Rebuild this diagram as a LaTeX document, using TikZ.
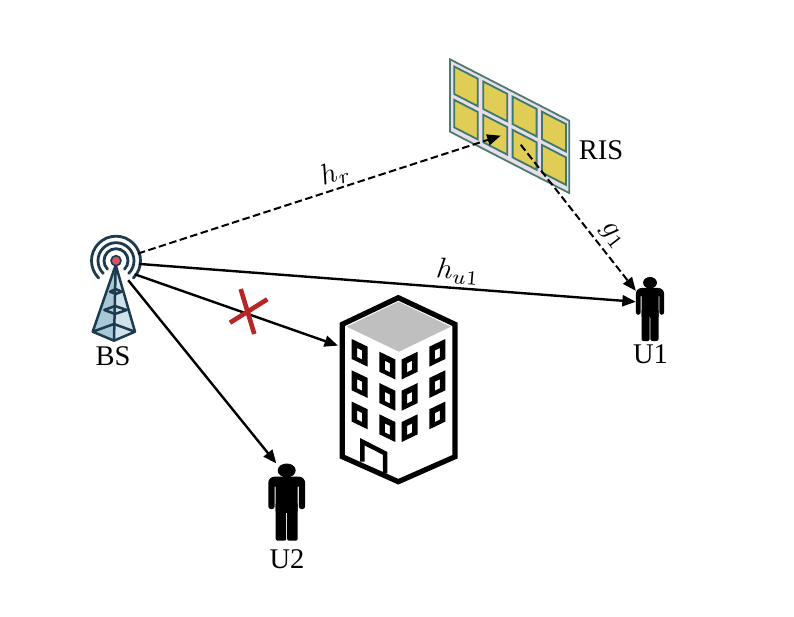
\documentclass[tikz,border=0pt]{standalone}
\usepackage[no-math]{fontspec}
\setmainfont{Liberation Serif}
\usetikzlibrary{arrows.meta}
\definecolor{navy}{HTML}{1D3B50}
\definecolor{towerL}{HTML}{A8C8D6}
\definecolor{towerR}{HTML}{CFE2E9}
\definecolor{redball}{HTML}{D9525E}
\definecolor{panel}{HTML}{E8DDE8}
\definecolor{panelline}{HTML}{4F7A72}
\definecolor{cellfill}{HTML}{DFCD55}
\definecolor{cellline}{HTML}{3A7A70}
\definecolor{crossred}{HTML}{B82525}
\tikzset{
  anchorbox/.style={inner sep=0pt,outer sep=0pt,minimum width=#1},
  link/.style={draw=black,line width=2.4pt,-{Triangle[length=13.5pt,width=11pt]}},
  dashlink/.style={link,line width=2pt,dash pattern=on 7.5pt off 3.5pt},
  caption/.style={inner sep=0pt,font=\fontsize{28.5}{30}\selectfont},
  mathlabel/.style={inner sep=0pt,scale=2.88},
  towerline/.style={draw=navy,line width=2.5pt,line join=round},
  ring/.style={draw=navy,line width=2.8pt,line cap=round},
  windowframe/.style={fill=black,even odd rule},
}
\newcommand{\personshape}{%
  \fill (0,.09) ellipse [x radius=.49,y radius=.09];
  \fill (-1,.4) [rounded corners=6pt] -- (-1,.171) -- (1,.171) [rounded corners=2.5pt] -- (1,.59) -- (.66,.59) [sharp corners] -- (.66,.30) -- (.60,.30) -- (.60,.62) -- (-.60,.62) -- (-.60,.30) -- (-.66,.30) [rounded corners=2.5pt] -- (-.66,.59) -- (-1,.59) -- cycle;
  \fill[rounded corners=2pt] (-.60,.5)--(-.025,.5)--(-.025,1)--(-.60,1)--cycle;
  \fill[rounded corners=2pt] (.60,.5)--(.025,.5)--(.025,1)--(.60,1)--cycle;
  \fill (-.03,.5) rectangle (.03,.64);
}
\newcommand{\windowat}[2]{%
  \fill[windowframe,shift={(#1,#2)}]
    (0,0)--(16,7.7)--(16,27.7)--(0,20)--cycle
    (5.5,9)--(10.5,11.5)--(10.5,20.5)--(5.5,18)--cycle;
}
\newcommand{\windowatR}[2]{%
  \fill[windowframe,shift={(#1,#2)}]
    (16,0)--(0,7.7)--(0,27.7)--(16,20)--cycle
    (10.5,9)--(5.5,11.5)--(5.5,20.5)--(10.5,18)--cycle;
}
\begin{document}
\begin{tikzpicture}[x=1pt,y=-1pt]
\useasboundingbox (0,0) rectangle (794,617);
\fill[white] (0,0) rectangle (794,617);

% named anchor nodes
\node[circle,anchorbox=46pt] (bs) at (116,260.7) {};
\node[anchorbox=28.3pt,minimum height=64pt] (u1) at (650,309) {};
\node[anchorbox=36.7pt,minimum height=77.2pt] (u2) at (286.7,502.1) {};
\node[anchorbox=121.3pt,minimum height=184pt] (building) at (398.65,389.7) {};
\coordinate (risin) at (500.7,135.7);
\coordinate (risout) at (520.7,144.7);

% tower
\fill[towerL] (115.7,265)--(92.7,331.7)--(114,340.7)--cycle;
\fill[towerR] (115.7,265)--(135,331.7)--(114,340.7)--cycle;
\draw[towerline] (92.7,331.7)--(114,324)--(135,331.7)--(114,340.7)--cycle;
\draw[towerline] (104.3,310)--(115,306)--(126.7,310)--(115,314)--cycle;
\draw[towerline] (110,291.7)--(115.7,289)--(121.7,291.7)--(115.7,294)--cycle;
\draw[towerline] (92.7,331.7)--(115.7,265)--(135,331.7);
\draw[towerline] (115.7,265)--(114,340.7);
% rings
\foreach \r in {12,18,24.5}
  \draw[ring] (116,260.7) ++(-45:\r pt) arc[start angle=-45,end angle=225,radius=\r pt];
\filldraw[fill=redball,draw=navy,line width=1.6pt] (116,260.7) circle[radius=5pt];

% RIS panel
\begin{scope}[shift={(450,59.3)},x={(119.3pt,-61.4pt)},y={(0pt,-72.4pt)}]
  \filldraw[fill=panel,draw=panelline,line width=1.8pt] (0,0)--(1,0)--(1,1)--(0,1)--cycle;
  \foreach \ua/\ub in {.036/.232,.279/.480,.525/.726,.771/.972}
    \foreach \va/\vb in {.07/.45,.53/.91}
      \filldraw[fill=cellfill,draw=cellline,line width=1.8pt] (\ua,\va)--(\ub,\va)--(\ub,\vb)--(\ua,\vb)--cycle;
\end{scope}

% building
\filldraw[fill=white,draw=black,line width=5.2pt,line join=miter] (398.3,297.7)--(455,324.3)--(455,456.7)--(398.3,481.7)--(342.3,456.7)--(342.3,324.3)--cycle;
\fill[fill=black!25] (346.7,326.7)--(398.3,301.7)--(450.7,326.7)--(399,351.7)--cycle;
\foreach \d in {0,31.3,62.6}{
  \windowat{351.7}{339+\d}
  \windowat{379.3}{351.7+\d}
  \windowatR{401.7}{351.7+\d}
  \windowatR{429.3}{339+\d}
}
\draw[black,line width=4.5pt,line join=miter] (362.3,461.7)--(362.3,441.7)--(385,453.3)--(385,473.3);

% people
\begin{scope}[shift={(650,277)},x=14.15pt,y=-64pt]\personshape\end{scope}
\begin{scope}[shift={(286.7,463.5)},x=18.35pt,y=-77.2pt]\personshape\end{scope}

% connectors
\draw[dashlink] (bs) -- (risin);
\draw[dashlink] (risout) -- (u1.128.5);
\draw[link] (bs.-8) -- (u1.153);
\draw[link] (bs.-36) -- (building.144.2);
\draw[link] (bs.-58) -- (u2.105.4);

% blocked mark
\draw[crossred,line width=4.6pt] (240.7,289)--(254.3,334);
\draw[crossred,line width=4.6pt] (230,322.7)--(267.3,299.3);

% labels
\node[caption] (bslabel) at (113,356) {BS};
\node[caption] (rislabel) at (601,150) {RIS};
\node[caption] (u1label) at (650.5,354) {U1};
\node[caption] (u2label) at (287,559) {U2};
\node[mathlabel,rotate=18] (hr) at (335,174) {$h_r$};
\node[mathlabel,rotate=-52] (g1) at (612,236) {$g_1$};
\node[mathlabel,rotate=-5] (hu1) at (458,272) {$h_{u1}$};
\end{tikzpicture}
\end{document}
